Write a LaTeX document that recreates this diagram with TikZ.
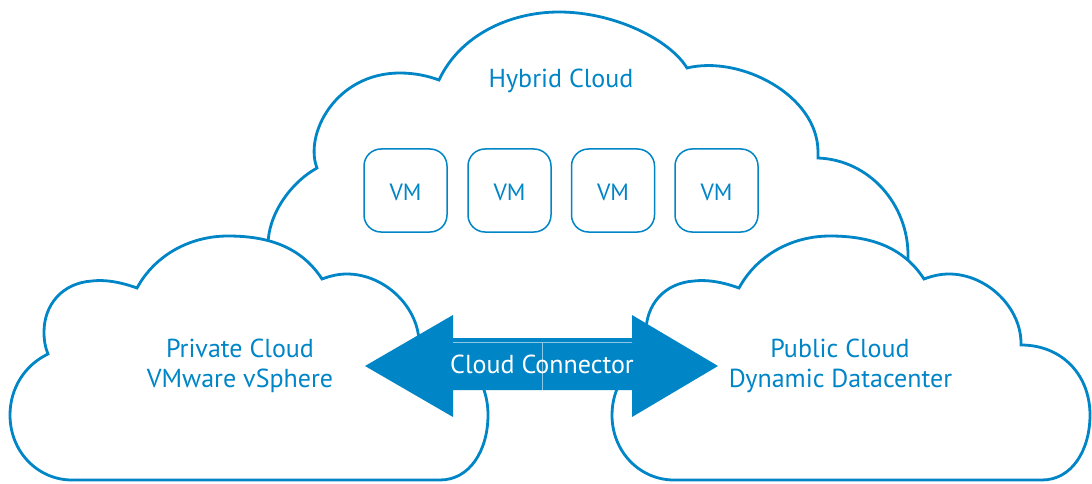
\documentclass[tikz,border=0pt]{standalone}
\usepackage{fontspec}
\setmainfont{PT Sans}
\definecolor{cblue}{RGB}{0,133,199}
\newcommand{\mysidecloud}{(72,480) -- (440,480)
 .. controls (470,480) and (488,450) .. (488,415)
 .. controls (488,375) and (460,345) .. (419,345)
 .. controls (420,308) and (385,274) .. (347,274)
 .. controls (338,274) and (330,276) .. (322,279)
 .. controls (300,245) and (265,236) .. (228,236)
 .. controls (190,236) and (155,255) .. (137,288)
 .. controls (115,280) and (100,280) .. (92,281)
 .. controls (62,283) and (44,305) .. (44,332)
 .. controls (44,340) and (45,347) .. (48,354)
 .. controls (25,365) and (10,388) .. (10,415)
 .. controls (10,452) and (38,480) .. (72,480) -- cycle}
\begin{document}
\begin{tikzpicture}[x=1pt,y=-1pt,
  cloudshape/.style={draw=cblue, line width=2.8pt, fill=white, line join=miter},
  vmbox/.style={draw=cblue, line width=1.5pt, rounded corners=17pt, minimum width=83pt, minimum height=83pt, inner sep=0pt, text=cblue, font=\fontsize{23.5}{26}\selectfont, text height=19pt, text depth=0pt},
  cloudtext/.style={text=cblue, font=\fontsize{26}{30}\selectfont, anchor=base, inner sep=0pt},
  conntext/.style={text=white, font=\fontsize{26}{30}\selectfont, anchor=base, inner sep=0pt},
  seam/.style={draw=cblue!45!white, line width=0.6pt}]
\useasboundingbox (0,0) rectangle (1092,484);
% hybrid cloud
\draw[cloudshape] (268,362) -- (268,245)
 .. controls (268,215) and (290,183) .. (317,168)
 .. controls (304,135) and (335,73) .. (400,73)
 .. controls (415,73) and (428,76) .. (439,80)
 .. controls (460,35) and (510,12) .. (559,12)
 .. controls (615,12) and (670,40) .. (687,68)
 .. controls (740,55) and (818,95) .. (818,152)
 -- (818,158)
 .. controls (870,160) and (908,205) .. (908,255)
 -- (908,362) -- cycle;
\node[cloudtext] (hybrid) at (561,88) {Hybrid Cloud};
\node[vmbox] (vm1) at (405.5,190.5) {VM};
\node[vmbox] (vm2) at (509.5,190.5) {VM};
\node[vmbox] (vm3) at (613,190.5) {VM};
\node[vmbox] (vm4) at (716.5,190.5) {VM};
% private cloud
\draw[cloudshape] \mysidecloud;
% public cloud
\begin{scope}[shift={(602,0)}]
\draw[cloudshape] \mysidecloud;
\end{scope}
\node[cloudtext] (priv1) at (240,357) {Private Cloud};
\node[cloudtext] (priv2) at (240,387) {VMware vSphere};
\node[cloudtext] (pub1) at (840,357) {Public Cloud};
\node[cloudtext] (pub2) at (840.5,387) {Dynamic Datacenter};
% connector arrow
\fill[cblue] (365,366) -- (453,315) -- (453,338) -- (632,338) -- (632,315) -- (718,366) -- (632,417) -- (632,390) -- (453,390) -- (453,417) -- cycle;
\draw[seam] (453,342) -- (632,342);
\draw[seam] (542,342) -- (542,390);
\node[conntext] (conn) at (542,373) {Cloud Connector};
\end{tikzpicture}
\end{document}
